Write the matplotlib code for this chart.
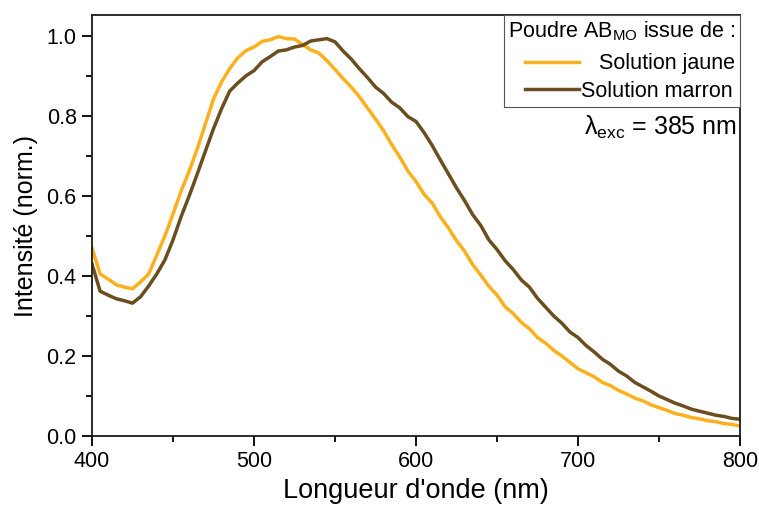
import numpy as np
import matplotlib
matplotlib.use("Agg")
import matplotlib.pyplot as plt
from matplotlib.ticker import MultipleLocator

plt.rcParams['font.family'] = ['Liberation Sans', 'DejaVu Sans']
plt.rcParams['mathtext.fontset'] = 'custom'
plt.rcParams['mathtext.rm'] = 'Liberation Sans'
plt.rcParams['mathtext.it'] = 'Liberation Sans:italic'
plt.rcParams['mathtext.bf'] = 'Liberation Sans:bold'

wavelength = np.arange(400, 801, 5)

jaune = [0.470, 0.405, 0.392, 0.378, 0.372, 0.368, 0.385, 0.405, 0.452, 0.500,
         0.555, 0.612, 0.662, 0.718, 0.780, 0.842, 0.885, 0.918, 0.945, 0.963,
         0.972, 0.986, 0.990, 0.998, 0.993, 0.992, 0.978, 0.965, 0.957, 0.938,
         0.916, 0.893, 0.872, 0.848, 0.820, 0.792, 0.763, 0.728, 0.697, 0.662,
         0.636, 0.604, 0.582, 0.548, 0.520, 0.488, 0.462, 0.428, 0.402, 0.374,
         0.352, 0.323, 0.306, 0.284, 0.268, 0.246, 0.232, 0.214, 0.200, 0.184,
         0.168, 0.158, 0.148, 0.134, 0.126, 0.114, 0.105, 0.095, 0.088, 0.078,
         0.071, 0.064, 0.056, 0.052, 0.046, 0.043, 0.038, 0.036, 0.031, 0.029,
         0.025]

marron = [0.430, 0.362, 0.352, 0.343, 0.338, 0.332, 0.348, 0.375, 0.405, 0.440,
          0.490, 0.548, 0.600, 0.655, 0.712, 0.768, 0.818, 0.862, 0.882, 0.900,
          0.913, 0.935, 0.948, 0.962, 0.965, 0.972, 0.976, 0.987, 0.990, 0.993,
          0.985, 0.962, 0.942, 0.918, 0.896, 0.872, 0.856, 0.834, 0.820, 0.798,
          0.786, 0.758, 0.726, 0.690, 0.655, 0.620, 0.588, 0.553, 0.526, 0.490,
          0.466, 0.438, 0.416, 0.390, 0.372, 0.344, 0.322, 0.300, 0.282, 0.260,
          0.246, 0.226, 0.210, 0.192, 0.179, 0.162, 0.150, 0.134, 0.123, 0.112,
          0.100, 0.091, 0.082, 0.075, 0.067, 0.062, 0.057, 0.052, 0.049, 0.044,
          0.042]

labels = ["Solution jaune", "Solution marron"]
colors = ["#FDB01E", "#6B4E1F"]

fig = plt.figure(figsize=(7.59, 5.09), dpi=100)
ax = fig.add_axes([0.1212, 0.1434, 0.975 - 0.1212, 0.9705 - 0.1434])

ax.plot(wavelength, jaune, color=colors[0], lw=2.5, label="   " + labels[0])
ax.plot(wavelength, marron, color=colors[1], lw=2.5, label=labels[1])

ax.set_xlim(400, 800)
ax.set_ylim(0, 1.052)
ax.xaxis.set_major_locator(MultipleLocator(100))
ax.xaxis.set_minor_locator(MultipleLocator(50))
ax.yaxis.set_major_locator(MultipleLocator(0.2))
ax.yaxis.set_minor_locator(MultipleLocator(0.1))
ax.yaxis.set_major_formatter(matplotlib.ticker.FormatStrFormatter('%.1f'))

for s in ax.spines.values():
    s.set_linewidth(1.3)
    s.set_color('#1a1a1a')
ax.tick_params(which='major', direction='out', length=7, width=1.3, labelsize=15.5, pad=4)
ax.tick_params(which='minor', direction='out', length=4, width=1.3)

ax.set_xlabel("Longueur d'onde (nm)", fontsize=19.5, labelpad=4)
ax.set_ylabel("Intensité (norm.)", fontsize=18, labelpad=6)

leg = ax.legend(loc='upper right', title="Poudre AB$_{\\mathrm{MO}}$ issue de :",
                fontsize=15.5, title_fontsize=15.5, frameon=True, fancybox=False,
                edgecolor='#555555', framealpha=1, borderaxespad=0,
                handlelength=2.5, handletextpad=0.1, borderpad=0.22,
                labelspacing=0.32, alignment='right')
leg.get_frame().set_linewidth(0.8)
leg._legend_box.sep = 7

ax.text(0.995, 0.733, "λ$_{\\mathrm{exc}}$ = 385 nm", transform=ax.transAxes,
        ha='right', va='center', fontsize=18)

fig.savefig("out.png", dpi=100)
